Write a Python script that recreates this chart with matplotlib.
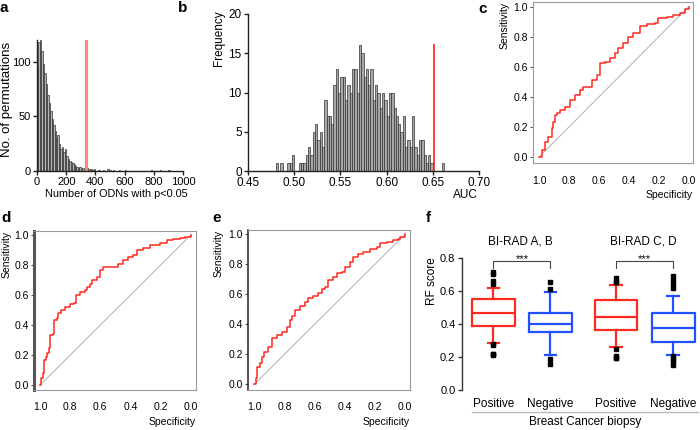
import matplotlib
matplotlib.use("Agg")
import matplotlib.pyplot as plt
import numpy as np

plt.rcParams["font.family"] = ["Liberation Sans", "DejaVu Sans"]

RED = "#ff2a1f"
BLUE = "#1f4fff"
SALMON = "#f4897c"
FRAME = "#9a9a9a"

# ---- data ----
# a: permutation histogram (bin width 10)
odn_bins = [0, 10, 20, 30, 40, 50, 60, 70, 80, 90, 100, 110, 120, 130, 140,
            150, 160, 170, 180, 190, 200, 210, 220, 230, 240, 250, 260, 270,
            280, 290, 300, 310, 320, 330, 340, 350, 360, 370, 380, 390, 420,
            450, 480, 500, 520, 560, 600, 780, 840, 900]
odn_counts = [95, 118, 120, 110, 98, 90, 80, 70, 62, 55, 48, 42, 37, 30, 33,
              25, 20, 22, 17, 20, 14, 11, 9, 8, 7, 6, 5, 4, 3, 4, 2, 3, 2, 1,
              3, 2, 1, 2, 1, 2, 1, 1, 2, 1, 1, 1, 1, 1, 1, 1]
odn_observed = 338

# b: AUC histogram (bin width 0.0025 starting 0.48)
auc_counts = [1, 0, 1, 0, 0, 1, 1, 2, 0, 0, 1, 1, 1, 2, 3, 2, 5, 6, 4, 5,
              3, 9, 7, 7, 6, 11, 13, 10, 12, 12, 9, 11, 10, 13, 13, 10, 16,
              15, 12, 13, 11, 13, 9, 11, 10, 8, 10, 9, 7, 10, 10, 8, 7, 6, 5,
              7, 3, 4, 3, 7, 3, 2, 4, 4, 2, 1, 2, 1, 0, 0, 0, 0, 1]
auc_start = 0.48
auc_width = 0.0025
auc_observed = 0.651
auc_observed_height = 16

# c, d, e: ROC curves
spec_c = [1.0, 0.984, 0.962, 0.94, 0.917, 0.906, 0.895, 0.884, 0.862, 0.828,
          0.795, 0.761, 0.728, 0.705, 0.672, 0.65, 0.616, 0.594, 0.56, 0.527,
          0.493, 0.471, 0.438, 0.404, 0.371, 0.326, 0.281, 0.225, 0.203,
          0.147, 0.103, 0.058, 0.025, 0.0]
sens_c = [0.0, 0.044, 0.1, 0.133, 0.189, 0.233, 0.278, 0.289, 0.311, 0.333,
          0.378, 0.411, 0.444, 0.462, 0.462, 0.511, 0.544, 0.622, 0.633,
          0.656, 0.689, 0.722, 0.756, 0.8, 0.822, 0.871, 0.884, 0.893, 0.922,
          0.933, 0.944, 0.96, 0.982, 1.0]

spec_d = [1.0, 0.996, 0.982, 0.978, 0.971, 0.962, 0.951, 0.938, 0.934, 0.912,
          0.905, 0.889, 0.878, 0.86, 0.834, 0.8, 0.774, 0.761, 0.735, 0.701,
          0.69, 0.668, 0.657, 0.624, 0.602, 0.58, 0.535, 0.48, 0.447, 0.414,
          0.38, 0.358, 0.314, 0.27, 0.204, 0.159, 0.115, 0.071, 0.038, 0.0]
sens_d = [0.0, 0.044, 0.044, 0.078, 0.167, 0.189, 0.211, 0.244, 0.333, 0.34,
          0.433, 0.444, 0.478, 0.5, 0.522, 0.538, 0.549, 0.6, 0.622, 0.633,
          0.656, 0.673, 0.7, 0.722, 0.767, 0.784, 0.789, 0.804, 0.833, 0.856,
          0.867, 0.9, 0.911, 0.933, 0.949, 0.967, 0.971, 0.978, 0.989, 1.0]

spec_e = [1.0, 0.989, 0.98, 0.962, 0.947, 0.934, 0.907, 0.885, 0.852, 0.819,
          0.785, 0.763, 0.752, 0.73, 0.697, 0.664, 0.642, 0.608, 0.575, 0.553,
          0.531, 0.509, 0.476, 0.454, 0.42, 0.398, 0.365, 0.343, 0.31, 0.277,
          0.232, 0.188, 0.166, 0.122, 0.077, 0.044, 0.033, 0.0]
sens_e = [0.0, 0.04, 0.118, 0.14, 0.184, 0.218, 0.251, 0.307, 0.329, 0.351,
          0.384, 0.429, 0.456, 0.496, 0.522, 0.551, 0.573, 0.589, 0.607,
          0.633, 0.651, 0.696, 0.718, 0.74, 0.751, 0.784, 0.818, 0.851, 0.869,
          0.884, 0.9, 0.918, 0.944, 0.951, 0.962, 0.967, 0.984, 1.0]

# f: box plot summaries
box_labels = ["Positive", "Negative", "Positive", "Negative"]
box_pos = [1, 2, 3.15, 4.15]
box_whislo = [0.286, 0.212, 0.258, 0.212]
box_q1 = [0.389, 0.351, 0.363, 0.292]
box_med = [0.464, 0.399, 0.443, 0.373]
box_q3 = [0.548, 0.466, 0.544, 0.463]
box_whishi = [0.615, 0.591, 0.635, 0.568]
box_fliers = [
    [0.715, 0.70, 0.66, 0.64, 0.28, 0.27, 0.22, 0.21, 0.215],
    [0.655, 0.61, 0.155, 0.19],
    [0.68, 0.655, 0.652, 0.245, 0.205, 0.195, 0.195],
    [0.69, 0.667, 0.643, 0.617, 0.205, 0.19, 0.177, 0.153],
]
box_colors = [RED, BLUE, RED, BLUE]
group_titles = ["BI-RAD A, B", "BI-RAD C, D"]

W, H = 700, 430
fig = plt.figure(figsize=(7, 4.3), dpi=100)
fig.patch.set_facecolor("white")


def px_axes(l, t, r, b):
    return fig.add_axes([l / W, 1 - b / H, (r - l) / W, (b - t) / H])


def letter(x, y, s):
    fig.text(x / W, 1 - y / H, s, fontsize=11, fontweight="bold",
             ha="left", va="center")


def open_axes(ax, size=8.5):
    for s in ["top", "right"]:
        ax.spines[s].set_visible(False)
    for s in ["left", "bottom"]:
        ax.spines[s].set_linewidth(1.0)
        ax.spines[s].set_color("#222")
    ax.tick_params(length=3, width=1.0, labelsize=size, pad=1.5, color="#222")


# ---- a ----
ax = px_axes(37, 40, 183, 171)
ax.bar(odn_bins, odn_counts, width=10, align="edge", facecolor="#b5b5b5",
       edgecolor="#333", linewidth=0.5)
ax.plot([odn_observed, odn_observed], [0, 120], color=SALMON, lw=2.3)
ax.set_xlim(0, 1000)
ax.set_ylim(0, 120)
ax.set_xticks([0, 200, 400, 600, 800, 1000])
ax.set_yticks([0, 50, 100])
open_axes(ax, 8)
fig.text(188 / W, 1 - 194 / H, "Number of ODNs with p<0.05", fontsize=7.8,
         ha="right", va="center")
fig.text(7 / W, 1 - 99 / H, "No. of permutations", fontsize=9.5,
         rotation=90, ha="center", va="center")
letter(0, 8, "a")

# ---- b ----
ax = px_axes(248, 14, 479, 171)
auc_left = [round(auc_start + i * auc_width, 4) for i in range(len(auc_counts))]
ax.bar(auc_left, auc_counts, width=auc_width, align="edge",
       facecolor="#a8a8a8", edgecolor="#333", linewidth=0.5)
ax.plot([auc_observed, auc_observed], [0, auc_observed_height], color="#ff1a1a",
        lw=1.2)
ax.set_xlim(0.45, 0.70)
ax.set_ylim(0, 20)
ax.set_xticks([0.45, 0.50, 0.55, 0.60, 0.65, 0.70])
ax.set_xticklabels(["0.45", "0.50", "0.55", "0.60", "0.65", "0.70"])
ax.set_yticks([0, 5, 10, 15, 20])
open_axes(ax)
fig.text(478 / W, 1 - 195 / H, "AUC", fontsize=8.5, ha="right", va="center")
fig.text(219 / W, 1 - 10 / H, "Frequency", fontsize=8.5, rotation=90,
         ha="center", va="top")
letter(178, 8, "b")


# ---- c, d, e ----
def roc(box, xlim, ylim, spec, sens, lab_x, left_color, left_lw):
    ax = px_axes(*box)
    ax.plot([1, 0], [0, 1], color="#b0b0b0", lw=0.7)
    ax.plot(spec, sens, color=RED, lw=1.1, drawstyle="steps-post")
    ax.set_xlim(*xlim)
    ax.set_ylim(*ylim)
    ax.set_xticks([1.0, 0.8, 0.6, 0.4, 0.2, 0.0])
    ax.set_yticks([0.0, 0.2, 0.4, 0.6, 0.8, 1.0])
    ax.set_xticklabels(["1.0", "0.8", "0.6", "0.4", "0.2", "0.0"])
    ax.set_yticklabels(["0.0", "0.2", "0.4", "0.6", "0.8", "1.0"])
    for s in ax.spines.values():
        s.set_color(FRAME)
        s.set_linewidth(0.8)
    ax.spines["left"].set_color(left_color)
    ax.spines["left"].set_linewidth(left_lw)
    ax.tick_params(axis="y", length=2.5, width=0.8, labelsize=7.5, pad=1.5,
                   color="#555")
    ax.tick_params(axis="x", length=0, labelsize=7.5, pad=9)
    l, t, r, b = box
    fig.text(r / W, 1 - (b + 32) / H, "Specificity", fontsize=7.5,
             ha="right", va="center")
    fig.text(lab_x / W, 1 - t / H, "Sensitivity", fontsize=7.5, rotation=90,
             ha="center", va="top")
    return ax


roc((533.3, 1.7, 693, 163.3), (1.04, -0.029), (-0.044, 1.033),
    spec_c, sens_c, 505, FRAME, 0.8)
letter(478, 9, "c")
roc((34.3, 230.7, 196, 390), (1.038, -0.035), (-0.033, 1.029),
    spec_d, sens_d, 7, "#555", 2.2)
letter(1, 218, "d")
roc((248.3, 230, 410, 390), (1.04, -0.033), (-0.038, 1.029),
    spec_e, sens_e, 219, "#222", 1.1)
letter(212, 218, "e")

# ---- f ----
ax = px_axes(461.7, 257.7, 700, 390)
stats = []
for i in range(len(box_labels)):
    stats.append(dict(med=box_med[i], q1=box_q1[i], q3=box_q3[i],
                      whislo=box_whislo[i], whishi=box_whishi[i],
                      fliers=box_fliers[i], label=box_labels[i]))
for i, st in enumerate(stats):
    c = box_colors[i]
    ax.bxp([st], positions=[box_pos[i]], widths=0.75, capwidths=0.2,
           boxprops=dict(color=c, lw=1.6),
           medianprops=dict(color=c, lw=1.6),
           whiskerprops=dict(color=c, lw=1.6),
           capprops=dict(color=c, lw=1.6),
           flierprops=dict(marker="s", markersize=2.6, markerfacecolor="black",
                           markeredgecolor="black"))
ax.set_xlim(0.446, 4.62)
ax.set_ylim(0, 0.8)
ax.set_xticks(box_pos)
ax.set_xticklabels(box_labels)
ax.set_yticks([0.0, 0.2, 0.4, 0.6, 0.8])
ax.set_yticklabels(["0.0", "0.2", "0.4", "0.6", "0.8"])
for s in ["top", "right", "bottom"]:
    ax.spines[s].set_visible(False)
ax.spines["left"].set_color("#333")
ax.spines["left"].set_linewidth(1.0)
ax.tick_params(axis="y", length=3, width=1.0, labelsize=8, pad=1.5,
               color="#333")
ax.tick_params(axis="x", length=0, labelsize=8.5, pad=6)

for g, (a, b) in enumerate([(0, 1), (2, 3)]):
    xa, xb = box_pos[a], box_pos[b]
    ax.plot([xa, xa, xb, xb], [0.736, 0.78, 0.78, 0.736], color="#444",
            lw=0.8, clip_on=False)
    ax.text((xa + xb) / 2, 0.79, "***", fontsize=8, ha="center",
            va="center", clip_on=False)
    ax.text((xa + xb) / 2 - 0.03, 0.897, group_titles[g], fontsize=8.5,
            ha="center", va="center", clip_on=False)

ax.plot([0.627, 4.59], [-0.131, -0.131], color="#bbbbbb", lw=1.0,
        clip_on=False)
ax.text(2.61, -0.193, "Breast Cancer biopsy", fontsize=8.5, ha="center",
        va="center", clip_on=False)
fig.text(432 / W, 1 - 257 / H, "RF score", fontsize=8.5, rotation=90,
         ha="center", va="top")
letter(426, 218, "f")

fig.savefig("out.png", dpi=100)
print("saved")
